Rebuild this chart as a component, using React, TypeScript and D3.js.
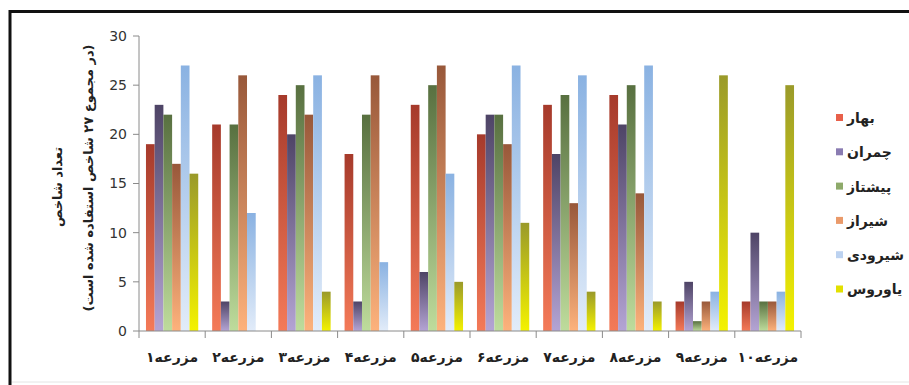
import React from "react";
import * as d3 from "d3";

const farms = ["مزرعه۱", "مزرعه۲", "مزرعه۳", "مزرعه۴", "مزرعه۵", "مزرعه۶", "مزرعه۷", "مزرعه۸", "مزرعه۹", "مزرعه۱۰"];
const seriesNames = ["بهار", "چمران", "پیشتاز", "شیراز", "شیرودی", "یاوروس"];
const bahar = [19, 21, 24, 18, 23, 20, 23, 24, 3, 3];
const chamran = [23, 3, 20, 3, 6, 22, 18, 21, 5, 10];
const pishtaz = [22, 21, 25, 22, 25, 22, 24, 25, 1, 3];
const shiraz = [17, 26, 22, 26, 27, 19, 13, 14, 3, 3];
const shiroodi = [27, 12, 26, 7, 16, 27, 26, 27, 4, 4];
const yavaros = [16, 0, 4, 0, 5, 11, 4, 3, 26, 25];
const yTicks = [0, 5, 10, 15, 20, 25, 30];

const seriesValues = [bahar, chamran, pishtaz, shiraz, shiroodi, yavaros];
const gradTop = ["#a63a2b", "#4e4466", "#587040", "#98583a", "#8ab2e2", "#9a9a2a"];
const gradBottom = ["#f47a58", "#b4a4d4", "#bedc9c", "#fdb27c", "#e2ecf9", "#f4f200"];
const legendColors = ["#e8604a", "#8a7cb2", "#8eaa6a", "#ea9a6a", "#bcd2f0", "#e2e000"];

export default function App() {
  const W = 909, H = 385;
  const x0 = d3.scaleBand<string>().domain(farms).range([139, 801]).paddingInner(0).paddingOuter(0);
  const x1 = d3.scaleBand<string>().domain(seriesNames).range([0, x0.bandwidth()]).paddingInner(0).paddingOuter(0.8);
  const y = d3.scaleLinear().domain([0, 30]).range([331, 36]);
  const font = "'DejaVu Sans', sans-serif";

  return (
    <svg width={W} height={H} style={{ position: "absolute", left: 0, top: 0, display: "block", background: "#fff" }}>
      <defs>
        {seriesNames.map((s, i) => (
          <linearGradient key={s} id={`g${i}`} x1="0" y1="0" x2="0" y2="1">
            <stop offset="0" stopColor={gradTop[i]} />
            <stop offset="1" stopColor={gradBottom[i]} />
          </linearGradient>
        ))}
      </defs>
      {/* frame */}
      <line x1={10} y1={11.5} x2={W} y2={11.5} stroke="#111" strokeWidth={3} />
      <line x1={10} y1={10} x2={10} y2={H} stroke="#111" strokeWidth={3} />
      <line x1={12} y1={382} x2={W} y2={382} stroke="#e4e4e4" strokeWidth={1} />

      {/* bars */}
      {farms.map((f, fi) => (
        <g key={f} transform={`translate(${x0(f)},0)`}>
          {seriesNames.map((s, si) => {
            const v = seriesValues[si][fi];
            if (v <= 0) return null;
            return (
              <rect key={s} x={x1(s)} y={y(v)} width={x1.bandwidth()} height={y(0) - y(v)} fill={`url(#g${si})`} />
            );
          })}
        </g>
      ))}

      {/* y axis */}
      <line x1={139} y1={y(30)} x2={139} y2={y(0)} stroke="#8a8a8a" strokeWidth={1} />
      {yTicks.map((t) => (
        <g key={t}>
          <line x1={133} x2={139} y1={y(t)} y2={y(t)} stroke="#8a8a8a" />
          <text x={127} y={y(t)} dy="0.35em" textAnchor="end" fontFamily={font} fontSize={14} fill="#333">{t}</text>
        </g>
      ))}

      {/* x axis */}
      <line x1={139} x2={801} y1={y(0)} y2={y(0)} stroke="#8a8a8a" />
      {d3.range(farms.length + 1).map((i) => {
        const xx = 139 + i * x0.step();
        return <line key={i} x1={xx} x2={xx} y1={y(0)} y2={y(0) + 7} stroke="#8a8a8a" />;
      })}
      {farms.map((f) => (
        <text key={f} x={(x0(f) as number) + x0.bandwidth() / 2} y={358} textAnchor="middle" dominantBaseline="middle"
          fontFamily={font} fontSize={14} fontWeight="bold" fill="#222">{f}</text>
      ))}

      {/* y title */}
      <text transform="translate(62,187) rotate(-90)" textAnchor="middle" fontFamily={font} fontSize={13} fontWeight="bold" fill="#222">تعداد شاخص</text>
      <text transform="translate(93,178) rotate(-90)" textAnchor="middle" fontFamily={font} fontSize={13} fontWeight="bold" fill="#222">(در مجموع ۲۷ شاخص استفاده شده است)</text>

      {/* legend */}
      {seriesNames.map((s, i) => {
        const ly = 118 + i * 34.3;
        return (
          <g key={s}>
            <rect x={836} y={ly - 4} width={7} height={7} fill={legendColors[i]} />
            <text x={847} y={ly} dy="0.35em" fontFamily={font} fontSize={14} fontWeight="bold" fill="#222">{s}</text>
          </g>
        );
      })}
    </svg>
  );
}
